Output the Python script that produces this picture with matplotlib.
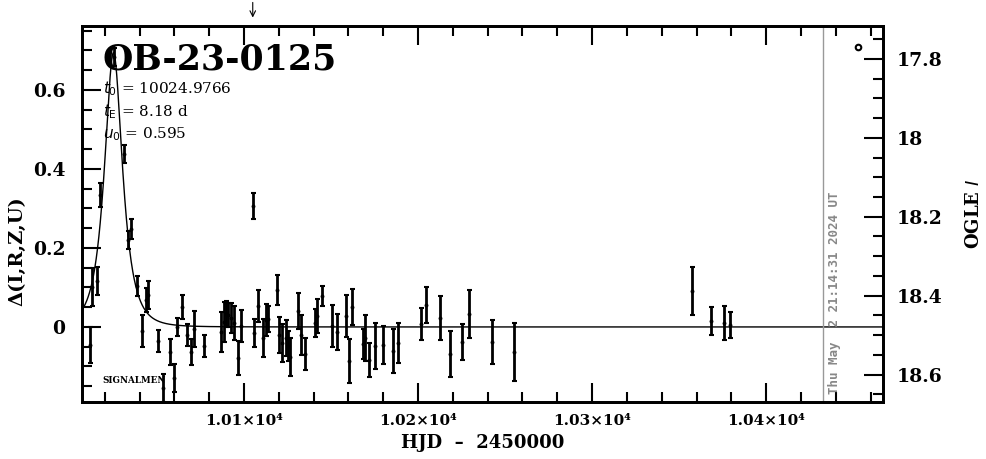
import numpy as np
import matplotlib
matplotlib.use("Agg")
import matplotlib.pyplot as plt
from matplotlib.ticker import MultipleLocator, FixedLocator, FuncFormatter

# event parameters (from the figure text)
event_name = "OB-23-0125"
t0 = 10024.9766
tE = 8.18
u0 = 0.595
now_hjd = 10432.8
alert_hjd = 10105.0
stamp = "Thu May  2 21:14:31 2024 UT"
base_mag = 18.479

# photometry: HJD-2450000, delta mag, error
hjd = [10011.5, 10012.6, 10015.5, 10017.2, 10025.3, 10031.0, 10033.3, 10035.1,
       10038.5, 10041.4, 10043.7, 10044.8, 10050.6, 10053.4, 10057.5, 10059.8,
       10061.5, 10064.4, 10067.2, 10069.5, 10071.3, 10077.0, 10086.8, 10088.5,
       10089.7, 10090.8, 10092.5, 10094.3, 10096.6, 10098.3, 10105.2, 10105.7,
       10108.0, 10110.9, 10112.6, 10113.8, 10119.0, 10120.1, 10121.8, 10124.1,
       10125.3, 10126.4, 10131.0, 10132.8, 10135.1, 10140.8, 10142.0, 10144.8,
       10150.6, 10153.4, 10158.6, 10160.3, 10162.1, 10168.4, 10169.5, 10171.8,
       10175.3, 10179.9, 10185.6, 10188.5, 10201.7, 10204.6, 10212.6, 10218.4,
       10225.3, 10229.3, 10242.5, 10255.2, 10357.5, 10368.4, 10375.9, 10379.3]
dmag = [-0.046, 0.101, 0.116, 0.334, 0.684, 0.438, 0.220, 0.248,
        0.104, -0.010, 0.068, 0.081, -0.035, -0.154, -0.063, -0.129,
        0.000, 0.051, -0.020, -0.063, -0.005, -0.048, -0.013, 0.013,
        0.033, 0.030, 0.023, 0.010, -0.078, 0.003, 0.306, -0.015,
        0.053, -0.028, 0.018, 0.020, 0.094, -0.020, -0.041, -0.028,
        -0.048, -0.076, 0.041, -0.020, -0.068, 0.010, 0.028, 0.078,
        0.003, -0.013, 0.028, -0.086, 0.051, -0.043, -0.028, -0.084,
        -0.048, -0.046, -0.061, -0.041, 0.008, 0.056, 0.023, -0.068,
        -0.038, 0.033, -0.038, -0.063, 0.091, 0.015, 0.010, 0.005]
derr = [0.046, 0.048, 0.035, 0.030, 0.023, 0.023, 0.023, 0.025,
        0.025, 0.041, 0.030, 0.035, 0.028, 0.035, 0.033, 0.035,
        0.023, 0.030, 0.028, 0.033, 0.046, 0.028, 0.051, 0.051,
        0.033, 0.030, 0.038, 0.043, 0.043, 0.041, 0.033, 0.035,
        0.041, 0.048, 0.041, 0.033, 0.038, 0.046, 0.048, 0.046,
        0.038, 0.048, 0.046, 0.051, 0.041, 0.035, 0.043, 0.025,
        0.053, 0.046, 0.053, 0.056, 0.046, 0.038, 0.058, 0.043,
        0.058, 0.048, 0.056, 0.051, 0.041, 0.046, 0.056, 0.058,
        0.046, 0.061, 0.056, 0.073, 0.061, 0.035, 0.043, 0.033]

xlim = (10006.9, 10467.2)
ylim = (-0.19, 0.762)

serif = "DejaVu Serif"
fig = plt.figure(figsize=(9.86, 4.59), dpi=100)
ax = fig.add_axes([0.0832, 0.1242, 0.8124, 0.8192])

# Paczynski model from the listed parameters
tt = np.linspace(xlim[0], xlim[1], 3000)
uu = np.sqrt(u0 ** 2 + ((tt - t0) / tE) ** 2)
amp = (uu ** 2 + 2) / (uu * np.sqrt(uu ** 2 + 4))
ax.plot(tt, 2.5 * np.log10(amp), color="black", lw=1.0)

ax.errorbar(hjd, dmag, yerr=derr, fmt="o", ms=1.8, color="black",
            ecolor="black", elinewidth=2.0, capsize=1.8, capthick=1.5)

ax.axvline(now_hjd, color="#999999", lw=1)
ax.text(now_hjd + 2.5, -0.17, stamp, rotation=90, ha="left", va="bottom",
        color="#888888", fontsize=9, family="DejaVu Sans Mono", weight="bold")

ax.set_xlim(*xlim)
ax.set_ylim(*ylim)
ax.xaxis.set_major_locator(MultipleLocator(100))
ax.xaxis.set_minor_locator(MultipleLocator(20))
ax.xaxis.set_major_formatter(FuncFormatter(lambda v, p: "%.2f\u00d710\u2074" % (v / 1e4)))
ax.yaxis.set_major_locator(FixedLocator([0, 0.2, 0.4, 0.6]))
ax.yaxis.set_minor_locator(MultipleLocator(0.05))
ax.yaxis.set_major_formatter(FuncFormatter(lambda v, p: "0" if abs(v) < 1e-9 else "%.1f" % v))
ax.tick_params(which="both", direction="in", top=True, width=1.5)
ax.tick_params(which="major", length=14)
ax.tick_params(which="minor", length=7)
ax.tick_params(axis="x", which="both", pad=9, labelsize=11)
ax.tick_params(axis="y", which="both", pad=12, labelsize=13.5)
for lab in ax.get_xticklabels() + ax.get_yticklabels():
    lab.set_family(serif)
    lab.set_weight("bold")
for s in ax.spines.values():
    s.set_linewidth(2)

ax.set_xlabel("HJD  \u2013  2450000", family=serif, weight="bold", fontsize=13, labelpad=4)
ax.set_ylabel("\u0394(I,R,Z,U)", family=serif, weight="bold", fontsize=14)
ax.yaxis.set_label_coords(-0.069, 0.40)

# right axis in OGLE I magnitudes
ax2 = ax.twinx()
ax2.set_ylim(base_mag - ylim[0], base_mag - ylim[1])
ax2.yaxis.set_major_locator(MultipleLocator(0.2))
ax2.yaxis.set_minor_locator(MultipleLocator(0.05))
ax2.yaxis.set_major_formatter(FuncFormatter(lambda v, p: ("%.1f" % v).rstrip("0").rstrip(".")))
ax2.tick_params(which="both", direction="in", width=1.5)
ax2.tick_params(which="major", length=14, labelsize=13.5, pad=10)
ax2.tick_params(which="minor", length=7)
for lab in ax2.get_yticklabels():
    lab.set_family(serif)
    lab.set_weight("bold")
for s in ax2.spines.values():
    s.set_linewidth(2)
ax2.set_ylabel("OGLE $I$", family=serif, weight="bold", fontsize=13)
ax2.yaxis.set_label_coords(1.102, 0.50)

# labels inside the frame
ax.text(0.026, 0.883, event_name, transform=ax.transAxes, family=serif,
        fontsize=25, weight="bold", va="baseline")
ax.text(0.026, 0.822, r"$t_0$ = %.4f" % t0, transform=ax.transAxes, family=serif,
        fontsize=11, va="baseline")
ax.text(0.026, 0.760, r"$t_{\rm E}$ = %.2f d" % tE, transform=ax.transAxes, family=serif,
        fontsize=11, va="baseline")
ax.text(0.026, 0.702, r"$u_0$ = %.3f" % u0, transform=ax.transAxes, family=serif,
        fontsize=11, va="baseline")
ax.text(0.026, 0.058, "SIGNALMEN", transform=ax.transAxes, family=serif,
        fontsize=6.3, weight="bold", va="center")
ax.plot([0.969], [0.944], "o", mfc="white", mec="black", ms=4, mew=1.5,
        transform=ax.transAxes, clip_on=False)

# alert arrow above the frame
ax.annotate("", xy=(alert_hjd, 1.015), xytext=(alert_hjd, 1.07),
            xycoords=("data", "axes fraction"),
            arrowprops=dict(arrowstyle="->", color="black", lw=0.8))

fig.savefig("out.png", dpi=100)
